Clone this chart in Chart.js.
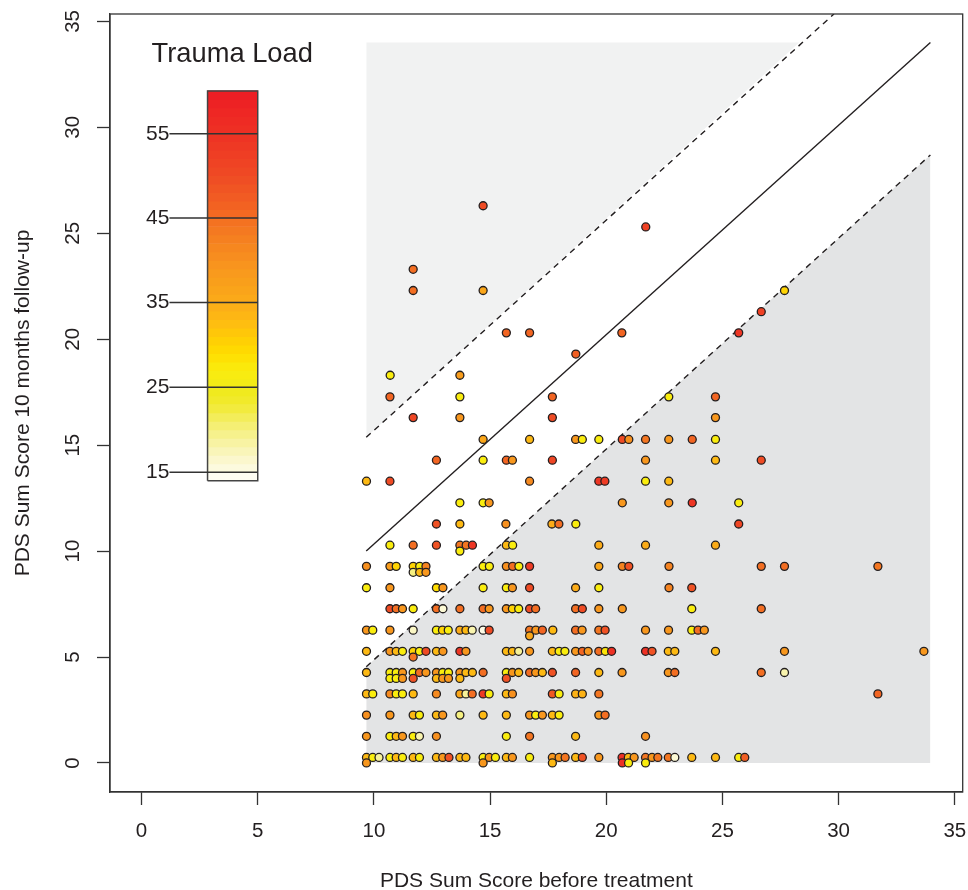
<!DOCTYPE html>
<html>
<head>
<meta charset="utf-8">
<title>PDS Sum Score</title>
<script src="https://cdn.jsdelivr.net/npm/chart.js@4/dist/chart.umd.js"></script>
<style>
  html, body { margin: 0; padding: 0; background: #fff; }
  canvas { display: block; }
</style>
</head>
<body>
<canvas id="scoreChart" width="968" height="890"></canvas>
<script>
////// data //////
// one entry per row of dots, the three arrays line up
const followUp = [0.26, 0, 1.26, 2.26, 3.26, 4.27, 3.99, 5.27, 5, 6.27, 6, 7.28, 8.27, 9.28, 9, 10.28, 10, 11.28, 12.28, 13.3, 14.29, 15.27, 16.3, 17.28, 18.3, 19.3, 20.3, 21.3, 22.3, 23.3, 25.3, 26.3];

const beforeTreatment = [
    [9.68, 9.95, 10.22, 10.69, 10.96, 11.23, 11.69, 11.96, 12.69, 12.96, 13.23, 13.7, 13.96, 14.7, 14.96, 15.23, 15.7, 15.96, 16.7, 17.68, 17.97, 18.23, 18.68, 18.97, 19.68, 20.68, 20.95, 21.2, 21.69, 21.97, 22.22, 22.67, 22.95, 23.68, 24.7, 25.7, 25.96],
    [9.68, 14.7, 17.68, 20.69, 20.96, 21.69],
    [9.68, 10.69, 10.96, 11.23, 11.69, 11.96, 12.69, 15.7, 16.7, 18.68, 21.69],
    [9.68, 10.69, 11.69, 11.96, 12.69, 12.96, 13.7, 14.7, 15.7, 16.7, 16.96, 17.25, 17.68, 17.97, 19.68, 19.95],
    [9.68, 9.95, 10.69, 10.96, 11.23, 11.69, 12.69, 13.7, 13.96, 14.23, 14.7, 14.96, 15.7, 15.96, 17.68, 17.97, 18.68, 18.97, 19.68, 31.69],
    [9.68, 10.69, 10.96, 11.23, 11.69, 11.96, 12.24, 12.69, 12.96, 13.21, 13.7, 13.96, 14.24, 14.7, 15.7, 15.96, 16.23, 16.7, 16.96, 17.25, 17.68, 18.68, 19.68, 20.68, 22.67, 22.95, 26.67, 27.67],
    [10.69, 10.96, 11.23, 11.69, 12.69, 12.96, 13.21, 13.7, 15.7],
    [9.68, 10.69, 10.96, 11.23, 11.69, 11.96, 12.24, 12.69, 12.97, 13.7, 13.96, 15.7, 15.96, 16.23, 16.7, 17.68, 17.97, 18.22, 18.68, 18.97, 19.22, 19.68, 19.96, 20.23, 21.69, 21.97, 22.67, 22.95, 24.7, 27.67, 33.67],
    [11.69],
    [9.68, 9.95, 10.69, 11.69, 12.69, 12.95, 13.2, 13.7, 13.96, 14.23, 14.7, 14.96, 16.7, 16.97, 17.25, 17.7, 18.68, 18.96, 19.68, 19.95, 21.69, 22.68, 23.68, 23.95, 24.22],
    [16.7],
    [10.69, 10.96, 11.23, 11.69, 12.69, 12.97, 13.7, 14.7, 14.96, 15.7, 15.96, 16.23, 16.7, 16.96, 18.68, 18.97, 19.68, 20.69, 23.68, 26.67],
    [9.68, 10.69, 12.69, 12.97, 14.7, 15.7, 15.96, 16.7, 18.68, 19.68, 22.7, 23.68],
    [9.68, 10.69, 10.96, 11.69, 11.97, 12.24, 14.7, 14.97, 15.7, 15.97, 16.24, 16.7, 19.68, 20.69, 20.97, 22.7, 26.67, 27.67, 31.69],
    [11.69, 11.97, 12.24],
    [10.69, 11.69, 12.69, 13.7, 13.97, 14.24, 15.7, 15.97, 19.68, 21.69, 24.7],
    [13.7],
    [12.69, 13.7, 15.68, 17.66, 17.96, 18.69, 25.7],
    [13.7, 14.7, 14.96, 20.69, 22.69, 23.7, 25.7],
    [9.68, 10.69, 16.7, 19.68, 19.94, 21.69, 22.69],
    [12.69, 14.7, 15.7, 15.96, 17.68, 21.69, 24.7, 26.67],
    [14.7, 16.7, 18.68, 18.97, 19.68, 20.69, 20.97, 21.69, 22.69, 23.7, 24.7],
    [11.69, 13.7, 17.68, 24.7],
    [10.69, 13.7, 17.68, 22.69, 24.7],
    [10.7, 13.7],
    [18.69],
    [15.7, 16.7, 20.67, 25.7],
    [26.67],
    [11.69, 14.7, 27.67],
    [11.69],
    [21.7],
    [14.7]
];

const traumaLoad = [
    [33, 27, 19, 27, 33, 27, 33, 27, 33, 39, 49, 33, 33, 27, 39, 27, 33, 39, 27, 39, 39, 44, 33, 49, 39, 55, 33, 39, 44, 39, 44, 44, 16, 33, 33, 27, 47],
    [39, 39, 33, 55, 27, 27],
    [39, 27, 33, 39, 27, 18, 40, 27, 44, 33, 40],
    [40, 39, 33, 27, 33, 39, 20, 33, 33, 39, 27, 39, 33, 27, 39, 45],
    [33, 27, 41, 27, 27, 33, 41, 36, 19, 45, 53, 27, 33, 40, 48, 27, 34, 34, 44, 46],
    [33, 27, 27, 39, 27, 45, 39, 39, 27, 27, 39, 33, 33, 45, 27, 39, 33, 45, 39, 33, 49, 46, 33, 39, 39, 45, 45, 18],
    [27, 27, 39, 49, 33, 39, 39, 33, 49],
    [33, 39, 33, 27, 30, 27, 50, 33, 39, 54, 39, 33, 33, 19, 39, 33, 27, 27, 39, 46, 39, 45, 28, 55, 55, 49, 33, 33, 33, 39],
    [44],
    [39, 27, 39, 17, 27, 30, 27, 35, 33, 18, 15, 50, 44, 39, 46, 33, 45, 39, 44, 49, 39, 39, 27, 45, 39],
    [36],
    [50, 45, 39, 27, 45, 16, 45, 45, 39, 39, 30, 27, 50, 45, 45, 50, 39, 39, 27, 45],
    [27, 39, 29, 39, 27, 27, 39, 50, 35, 27, 42, 49],
    [40, 38, 30, 30, 27, 42, 27, 27, 40, 45, 27, 53, 36, 42, 49, 42, 45, 45, 44],
    [20, 33, 39],
    [27, 45, 49, 44, 44, 54, 33, 27, 35, 35, 35],
    [27],
    [49, 33, 40, 35, 45, 27, 51],
    [27, 27, 39, 39, 39, 54, 27],
    [33, 50, 41, 54, 53, 27, 33],
    [46, 27, 46, 39, 51, 39, 33, 50],
    [36, 33, 39, 27, 27, 50, 40, 44, 39, 46, 27],
    [51, 39, 50, 39],
    [46, 27, 46, 27, 46],
    [27, 38],
    [47],
    [46, 46, 46, 54],
    [52],
    [45, 36, 30],
    [45],
    [52],
    [50]
];

// colour key
const keyTitle = 'Trauma Load';
const keyTicks = [15, 25, 35, 45, 55];
const keyTickY = [13.72, 17.73, 21.73, 25.72, 29.7];
const keyLoads = [14, 15, 16, 17, 18, 19, 20, 21, 22, 23, 24, 25, 26, 27, 28, 29, 30, 31, 32, 33, 34, 35, 36, 37, 38, 39, 40, 41, 42, 43, 44, 45, 46, 47, 48, 49, 50, 51, 52, 53, 54, 55, 56, 57, 58, 59];
const loadStops = [14, 15, 17, 19, 21, 23, 25, 27, 29, 31, 33, 35, 38, 41, 44, 46, 50, 55, 60];
const colourStops = ['#ffffff', '#fdfbe6', '#faf6c4', '#f7f298', '#f4ee68', '#f1ea30', '#f0ea18', '#faed0e', '#ffdd00', '#ffcb05', '#fdb913', '#fbab18', '#f99d1c', '#f68a1f', '#f47621', '#f26522', '#ef4b24', '#ee3124', '#ed1c24'];

// lines and shaded areas
const centreLine = [{x: 9.67, y: 10}, {x: 33.95, y: 34}];
const upperLine = [{x: 9.67, y: 15.37}, {x: 29.8, y: 35.35}];
const lowerLine = [{x: 9.67, y: 4.54}, {x: 33.95, y: 28.7}];
const upperArea = [{x: 9.67, y: 15.37}, {x: 28.3, y: 34}];

const ink = '#231f20';
const labelFont = '"Liberation Sans", Arial, sans-serif';

////// misc functions //////
function hexToRgb(hex) {
    return [1, 3, 5].map(i => parseInt(hex.slice(i, i + 2), 16));
}

function colourForLoad(load) {
    let i = 0;
    while (i < loadStops.length - 2 && load > loadStops[i + 1]) i++;
    const t = (load - loadStops[i]) / (loadStops[i + 1] - loadStops[i]);
    const a = hexToRgb(colourStops[i]);
    const b = hexToRgb(colourStops[i + 1]);
    const mix = a.map((v, k) => Math.round(v + (b[k] - v) * t));
    return `rgb(${mix[0]},${mix[1]},${mix[2]})`;
}

// the key sits in plot coordinates, 1 load unit = 0.4 y units
function keyY(load) {
    return keyTickY[0] + (load - keyTicks[0]) * 0.4;
}

const scatterPoints = [];
const scatterColours = [];
followUp.forEach((y, row) => {
    beforeTreatment[row].forEach((x, i) => {
        scatterPoints.push({x: x, y: y});
        scatterColours.push(colourForLoad(traumaLoad[row][i]));
    });
});

const keyTickLines = [];
keyTickY.forEach(y => {
    keyTickLines.push({x: 1.2, y: y}, {x: 5, y: y}, {x: 5, y: null});
});

const keyBox = [
    {x: 2.84, y: keyY(14)}, {x: 5, y: keyY(14)}, {x: 5, y: keyY(60)},
    {x: 2.84, y: keyY(60)}, {x: 2.84, y: keyY(14)}
];

////// plugin: frame and key text //////
const framePlugin = {
    id: 'frame',
    afterDatasetsDraw(chart) {
        const {ctx, chartArea, scales} = chart;
        ctx.save();
        ctx.strokeStyle = '#333';
        ctx.lineWidth = 1.3;
        ctx.strokeRect(chartArea.left, chartArea.top, chartArea.right - chartArea.left, chartArea.bottom - chartArea.top);

        ctx.fillStyle = ink;
        ctx.textBaseline = 'middle';
        ctx.textAlign = 'right';
        ctx.font = `21px ${labelFont}`;
        keyTicks.forEach((label, i) => {
            ctx.fillText(String(label), scales.x.getPixelForValue(1.2), scales.y.getPixelForValue(keyTickY[i]));
        });
        ctx.textAlign = 'left';
        ctx.font = `27.3px ${labelFont}`;
        ctx.fillText(keyTitle, scales.x.getPixelForValue(0.43), scales.y.getPixelForValue(33.44));
        ctx.restore();
    }
};

////// chart //////
const lineStyle = {type: 'scatter', showLine: true, pointRadius: 0, borderColor: ink, borderWidth: 1.4, tension: 0, fill: false};

new Chart(document.querySelector('#scoreChart'), {
    type: 'scatter',
    data: {
        datasets: [
            {type: 'scatter', showLine: true, data: lowerLine, pointRadius: 0, borderWidth: 0, fill: {value: 0}, backgroundColor: '#e3e4e5', order: 10},
            {type: 'scatter', showLine: true, data: upperArea, pointRadius: 0, borderWidth: 0, fill: {value: 34}, backgroundColor: '#f1f2f2', order: 10},
            {...lineStyle, data: centreLine, order: 5},
            {...lineStyle, data: upperLine, borderDash: [6, 5], order: 5},
            {...lineStyle, data: lowerLine, borderDash: [6, 5], order: 5},
            {
                type: 'bar',
                data: keyLoads.map(load => ({x: 3.92, y: [keyY(load), keyY(load + 1)]})),
                backgroundColor: keyLoads.map(load => colourForLoad(load + 0.5)),
                barThickness: 50,
                grouped: false,
                borderWidth: 0,
                order: 4
            },
            {...lineStyle, data: keyTickLines, borderColor: '#333', spanGaps: false, order: 3},
            {...lineStyle, data: keyBox, borderColor: '#444', borderWidth: 1.5, order: 3},
            {
                data: scatterPoints,
                pointRadius: 4,
                pointBorderWidth: 1.3,
                pointBorderColor: ink,
                pointBackgroundColor: scatterColours,
                order: 1
            }
        ]
    },
    options: {
        responsive: false,
        animation: false,
        layout: {padding: {top: 14, right: 0, left: 0, bottom: 0}},
        plugins: {legend: {display: false}, tooltip: {enabled: false}},
        scales: {
            x: {
                type: 'linear',
                min: -1.358,
                max: 35.34,
                offset: false,
                grid: {drawOnChartArea: false, offset: false, tickLength: 13, tickWidth: 1.3, tickColor: '#333'},
                border: {color: '#333', width: 1.3},
                ticks: {stepSize: 5, includeBounds: false, maxRotation: 0, padding: 14, color: ink, font: {family: labelFont, size: 20.5}},
                title: {display: true, text: 'PDS Sum Score before treatment', color: ink, font: {family: labelFont, size: 21, lineHeight: 1}, padding: {top: 0, bottom: -2}},
                afterFit(scale) {
                    scale.height = 98;
                    scale.paddingLeft = 0;
                    scale.paddingRight = 0;
                }
            },
            y: {
                type: 'linear',
                min: -1.37,
                max: 35.35,
                grid: {drawOnChartArea: false, tickLength: 13, tickWidth: 1.3, tickColor: '#333'},
                border: {color: '#333', width: 1.3},
                ticks: {stepSize: 5, includeBounds: false, minRotation: 90, maxRotation: 90, crossAlign: 'center', padding: 12, color: ink, font: {family: labelFont, size: 20.5}},
                title: {display: true, text: 'PDS Sum Score 10 months follow-up', color: ink, font: {family: labelFont, size: 21}, padding: {top: 11, bottom: 0}},
                afterFit(scale) {
                    scale.width = 110;
                    scale.paddingTop = 0;
                    scale.paddingBottom = 0;
                }
            }
        }
    },
    plugins: [framePlugin]
});
</script>
</body>
</html>
